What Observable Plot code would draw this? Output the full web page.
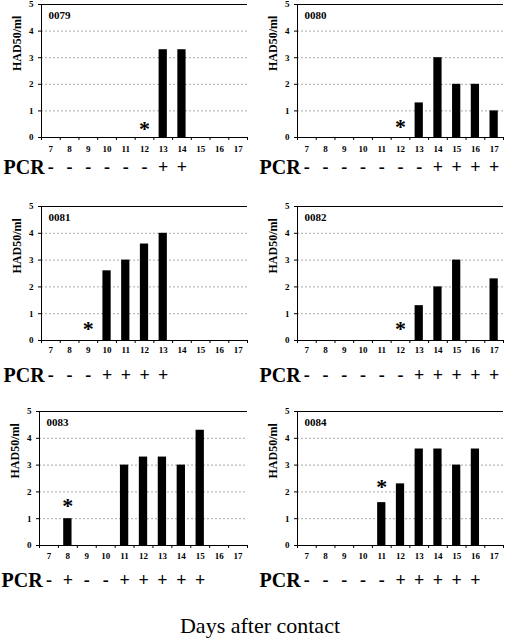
<!DOCTYPE html>
<html><head><meta charset="utf-8">
<script src="https://cdn.jsdelivr.net/npm/d3@7"></script>
<script src="https://cdn.jsdelivr.net/npm/@observablehq/plot@0.6"></script>
<style>
body{margin:0;background:#fff;width:512px;height:641px;position:relative;overflow:hidden}
.panel{position:absolute}
.panel svg, .panel svg text{font-family:"Liberation Serif","Times New Roman",serif !important;font-weight:bold}
#caption{position:absolute;left:0;width:520px;top:612px;text-align:center;font:22px "Liberation Serif",serif;line-height:28px}
</style></head><body>
<div id="root"></div>
<div id="caption">Days after contact</div>
<script>
const days = [7,8,9,10,11,12,13,14,15,16,17];
const animals = ["0079","0080","0081","0082","0083","0084"];
const had0079 = [null,null,null,null,null,null,3.3,3.3,null,null,null];
const had0080 = [null,null,null,null,null,null,1.3,3.0,2.0,2.0,1.0];
const had0081 = [null,null,null,2.6,3.0,3.6,4.0,null,null,null,null];
const had0082 = [null,null,null,null,null,null,1.3,2.0,3.0,null,2.3];
const had0083 = [null,1.0,null,null,3.0,3.3,3.3,3.0,4.3,null,null];
const had0084 = [null,null,null,null,1.6,2.3,3.6,3.6,3.0,3.6,null];
const pcr0079 = ["-","-","-","-","-","-","+","+","","",""];
const pcr0080 = ["-","-","-","-","-","-","-","+","+","+","+"];
const pcr0081 = ["-","-","-","+","+","+","+","","","",""];
const pcr0082 = ["-","-","-","-","-","-","+","+","+","+","+"];
const pcr0083 = ["-","+","-","-","+","+","+","+","+","",""];
const pcr0084 = ["-","-","-","-","-","+","+","+","+","+",""];
const starDay = [12,12,9,12,8,11];
const starLevel = [0.45,0.5,0.55,0.55,1.6,2.3];
const yTicks = [0,1,2,3,4,5];
const gridTicks = [1,2,3,4];
const yLabel = "HAD50/ml";
const pcrLabel = "PCR";

const hadSeries = [had0079,had0080,had0081,had0082,had0083,had0084];
const pcrSeries = [pcr0079,pcr0080,pcr0081,pcr0082,pcr0083,pcr0084];
const layout = [
  {left:0,top:0,inner:133,pcrDy:30,labPad:8,ml:41},
  {left:256,top:0,inner:133,pcrDy:30,labPad:8,ml:41},
  {left:0,top:202,inner:134,pcrDy:35,labPad:6,ml:41},
  {left:256,top:202,inner:134,pcrDy:35,labPad:6,ml:41},
  {left:0,top:407,inner:134,pcrDy:35,labPad:7,ml:39},
  {left:256,top:407,inner:134,pcrDy:35,labPad:7,ml:41}
];
const serif = '"Liberation Serif", serif';
const boundaries = days.map(d=>d-0.5).concat([days[days.length-1]+0.5]);
const root = document.getElementById("root");
animals.forEach((name,i)=>{
  const L = layout[i];
  const rows = days.map((d,j)=>({day:d, v:hadSeries[i][j], s:pcrSeries[i][j]})).filter(r=>r.s!=="" || r.v!=null);
  const signs = rows.filter(r=>r.s!=="");
  const bars = rows.filter(r=>r.v!=null);
  const mb = 50;
  const chart = Plot.plot({
    width:256, height:4+L.inner+mb, marginTop:4, marginBottom:mb, marginLeft:L.ml, marginRight:9,
    x:{domain:[6.5,17.5]}, y:{domain:[0,5]},
    style:{background:"white", overflow:"visible", color:"black", fontFamily:serif},
    marks:[
      Plot.gridY(gridTicks, {stroke:"#aaa", strokeOpacity:1, strokeDasharray:"2,2"}),
      Plot.ruleY([5], {stroke:"black"}),
      Plot.rectY(bars, {x1:d=>d.day-0.22, x2:d=>d.day+0.22, y:"v", fill:"black"}),
      Plot.ruleY([0], {stroke:"black"}),
      Plot.ruleX([6.5], {stroke:"black"}),
      Plot.ruleX(boundaries, {x:d=>d, y1:0, y2:0, insetTop:3, stroke:"black"}),
      Plot.axisY(yTicks, {tickSize:3, tickPadding:5, fontSize:9, fontFamily:serif, fontWeight:"bold", label:null}),
      Plot.text([yLabel], {frameAnchor:"left", dx:-24, rotate:-90, fontSize:12, fontFamily:serif, fontWeight:"bold"}),
      Plot.axisX(days, {tickSize:0, tickPadding:L.labPad, fontSize:9, fontFamily:serif, fontWeight:"bold", label:null}),
      Plot.text([name], {frameAnchor:"top-left", dx:7, dy:7, fontSize:11, fontFamily:serif, fontWeight:"bold", textAnchor:"start", lineAnchor:"top"}),
      Plot.text([{day:starDay[i], lv:starLevel[i]}], {x:"day", y:"lv", text:()=>"*", fontSize:22, fontFamily:serif, fontWeight:"bold", dy:3}),
      Plot.text([pcrLabel], {frameAnchor:"bottom-left", lineAnchor:"middle", dx:-38, dy:L.pcrDy, textAnchor:"start", fontSize:20, fontFamily:serif, fontWeight:"bold"}),
      Plot.text(signs, {x:"day", frameAnchor:"bottom", lineAnchor:"middle", dy:L.pcrDy, text:"s", fontSize:18, fontFamily:serif, fontWeight:"bold"})
    ]
  });
  const div = document.createElement("div");
  div.className = "panel";
  div.style.left = L.left+"px";
  div.style.top = L.top+"px";
  div.appendChild(chart);
  root.appendChild(div);
});
</script>
</body></html>
